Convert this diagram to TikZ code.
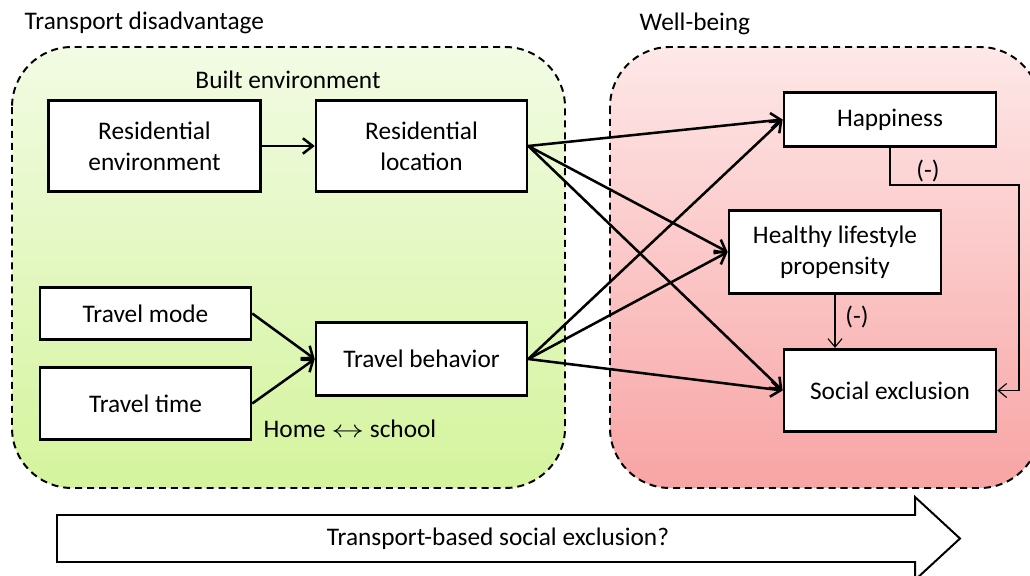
\documentclass[tikz,border=0pt]{standalone}
\usepackage{fontspec}
\setmainfont{Carlito}
\usetikzlibrary{arrows.meta,calc}
\begin{document}
\begin{tikzpicture}[x=0.025cm,y=-0.025cm,
  font=\fontsize{18}{22}\selectfont,
  panel/.style={draw=black,line width=1.4pt,dash pattern=on 5pt off 3.5pt,rounded corners=1.5cm},
  box/.style={draw=black,fill=white,line width=1.9pt,align=center,inner sep=2pt},
  arr/.style={line width=1.8pt,-{Straight Barb[length=7pt,width=11pt,line width=1.8pt]}},
  thinarr/.style={line width=0.8pt,-{Straight Barb[length=6pt,width=10pt,line width=0.8pt]}},
  lbl/.style={inner sep=1pt}]
\clip (0,0) rectangle (1030,576);
\useasboundingbox (0,0) rectangle (1030,576);
\fill[white] (0,0) rectangle (1030,576);
% panels
\path[panel,top color={rgb,255:red,242;green,251;blue,228},bottom color={rgb,255:red,212;green,244;blue,156}] (12,47) rectangle (565,488);
\path[panel,top color={rgb,255:red,254;green,232;blue,232},bottom color={rgb,255:red,248;green,164;blue,164}] (610,47) rectangle (1040,488);
% titles
\node[lbl,anchor=west] (tdis) at (23,23) {Transport disadvantage};
\node[lbl,anchor=west] (wb) at (638,24) {Well-being};
\node[lbl] (built) at (288,80) {Built environment};
\node[lbl,anchor=west] (hs) at (262,429) {Home \scalebox{1.35}[1]{$\leftrightarrow$} school};
% boxes
\node[box,minimum width=5.3cm,minimum height=2.28cm] (renv) at (154.5,146) {Residential\\environment};
\node[box,minimum width=5.27cm,minimum height=2.28cm] (rloc) at (421.5,146) {Residential\\location};
\node[box,minimum width=5.27cm,minimum height=1.3cm] (tmode) at (145.5,313.5) {Travel mode};
\node[box,minimum width=5.27cm,minimum height=1.8cm] (ttime) at (145.5,403.5) {Travel time};
\node[box,minimum width=5.27cm,minimum height=1.83cm] (tbeh) at (421.5,359) {Travel behavior};
\node[box,minimum width=5.3cm,minimum height=1.36cm] (hap) at (890,119.5) {Happiness};
\node[box,minimum width=5.3cm,minimum height=2.08cm] (hlp) at (835,252) {Healthy lifestyle\\propensity};
\node[box,minimum width=5.3cm,minimum height=2.06cm] (soc) at (890,390.5) {Social exclusion};
% arrows
\draw[arr] (renv.east) -- (rloc.west);
\draw[arr] (tmode.east) -- (tbeh.west);
\draw[arr] (ttime.east) -- (tbeh.west);
\draw[arr] (rloc.east) -- (hap.west);
\draw[arr] (rloc.east) -- (hlp.west);
\draw[arr] (rloc.east) -- (soc.west);
\draw[arr] (tbeh.east) -- (hap.west);
\draw[arr] (tbeh.east) -- (hlp.west);
\draw[arr] (tbeh.east) -- (soc.west);
% (-) links
\coordinate (turn) at (1019,390.5);
\draw[thinarr] (hap.south) -- ++(0,37) -| (turn) -- (soc.east);
\node[lbl] (m1) at (928,171) {(-)};
\draw[thinarr] (hlp.south) -- (hlp.south |- soc.north);
\node[lbl] (m2) at (857,317) {(-)};
% big arrow
\draw[line width=1.4pt,fill=white] (57,515) -- (915,515) -- (915,497) -- (960,538.5) -- (915,580) -- (915,562) -- (57,562) -- cycle;
\node[lbl] (tbse) at (498,538.5) {Transport-based social exclusion?};
\end{tikzpicture}
\end{document}
